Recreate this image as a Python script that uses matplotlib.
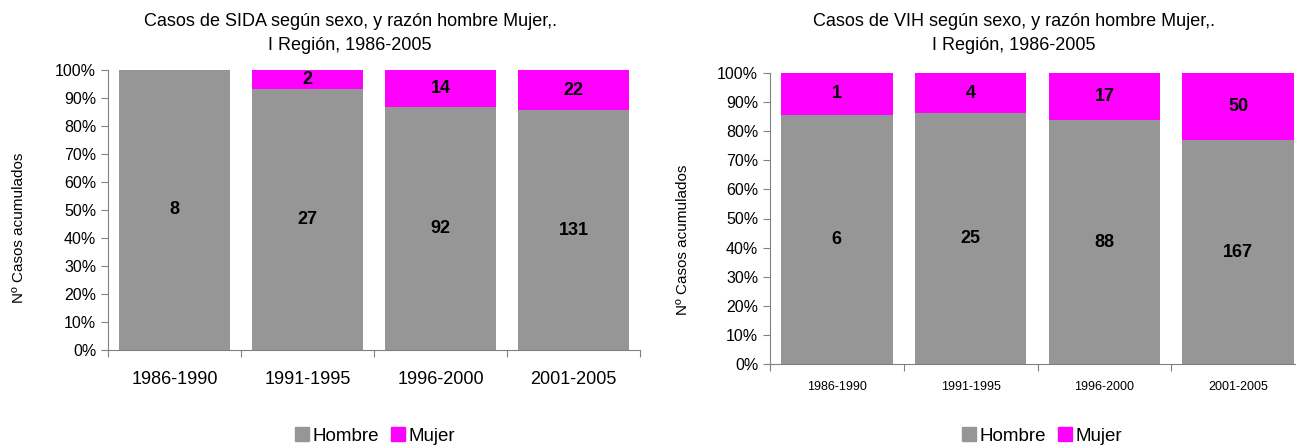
import matplotlib
matplotlib.use("Agg")
import matplotlib.pyplot as plt
import numpy as np
from matplotlib.patches import Patch

plt.rcParams['font.family'] = ['Liberation Sans', 'DejaVu Sans']

periodos = ['1986-1990', '1991-1995', '1996-2000', '2001-2005']
sida_hombre = [8, 27, 92, 131]
sida_mujer = [0, 2, 14, 22]
vih_hombre = [6, 25, 88, 167]
vih_mujer = [1, 4, 17, 50]

gris = '#969696'
magenta = '#FF00FF'


def plot_chart(ax, hombre, mujer, xfont, xpad):
    hombre = np.array(hombre, dtype=float)
    mujer = np.array(mujer, dtype=float)
    total = hombre + mujer
    ph = hombre / total * 100
    pm = mujer / total * 100
    x = np.arange(len(periodos))
    ax.bar(x, ph, width=0.835, color=gris)
    ax.bar(x, pm, width=0.835, bottom=ph, color=magenta)
    for i in range(len(x)):
        ax.text(x[i], ph[i] / 2, str(int(hombre[i])), ha='center', va='center',
                fontsize=13, fontweight='bold')
        if mujer[i] > 0:
            ax.text(x[i], ph[i] + pm[i] / 2, str(int(mujer[i])), ha='center',
                    va='center', fontsize=13, fontweight='bold')
    ax.set_xlim(-0.5, len(x) - 0.5)
    ax.set_ylim(0, 100)
    ax.set_yticks(range(0, 101, 10))
    ax.set_yticklabels([f'{v}%' for v in range(0, 101, 10)], fontsize=11.5)
    # ticks between categories, labels under the bars
    ax.set_xticks(np.arange(len(x) + 1) - 0.5)
    ax.set_xticklabels([])
    ax.set_xticks(x, minor=True)
    ax.set_xticklabels(periodos, minor=True, fontsize=xfont)
    ax.tick_params(axis='x', which='minor', length=0, pad=xpad)
    ax.tick_params(axis='x', which='major', length=5, direction='out')
    ax.tick_params(axis='y', length=5, direction='out')
    ax.spines['top'].set_visible(False)
    ax.spines['right'].set_visible(False)
    ax.spines['left'].set_color('#808080')
    ax.spines['bottom'].set_color('#808080')
    ax.tick_params(colors='#808080', labelcolor='black')
    ax.set_ylabel('Nº Casos acumulados', fontsize=11)


W, H = 1296, 445
fig = plt.figure(figsize=(12.96, 4.45), dpi=100)
ax1 = fig.add_axes([108 / W, 1 - 350 / H, 532 / W, 280 / H])
ax2 = fig.add_axes([770 / W, 1 - 364 / H, 535 / W, 291 / H])

plot_chart(ax1, sida_hombre, sida_mujer, 13, 15)
plot_chart(ax2, vih_hombre, vih_mujer, 9, 12.5)
ax1.yaxis.set_label_coords(-0.155, 0.436)
ax2.yaxis.set_label_coords(-0.15, 0.428)

fig.text(350 / W, 1 - 22 / H, 'Casos de SIDA según sexo, y razón hombre Mujer,.',
         ha='center', va='center', fontsize=13)
fig.text(350 / W, 1 - 46 / H, 'I Región, 1986-2005', ha='center', va='center', fontsize=13)
fig.text(1014 / W, 1 - 22 / H, 'Casos de VIH según sexo, y razón hombre Mujer,.',
         ha='center', va='center', fontsize=13)
fig.text(1014 / W, 1 - 46 / H, 'I Región, 1986-2005', ha='center', va='center', fontsize=13)

handles = [Patch(color=gris, label='Hombre'), Patch(color=magenta, label='Mujer')]
for cx in [375 / W, 1042 / W]:
    fig.legend(handles=handles, loc='center', bbox_to_anchor=(cx, 1 - 436 / H), ncol=2,
               frameon=False, fontsize=13.5, handlelength=0.75, handleheight=0.75,
               handletextpad=0.2, columnspacing=0.6)

fig.savefig('out.png', dpi=100)
